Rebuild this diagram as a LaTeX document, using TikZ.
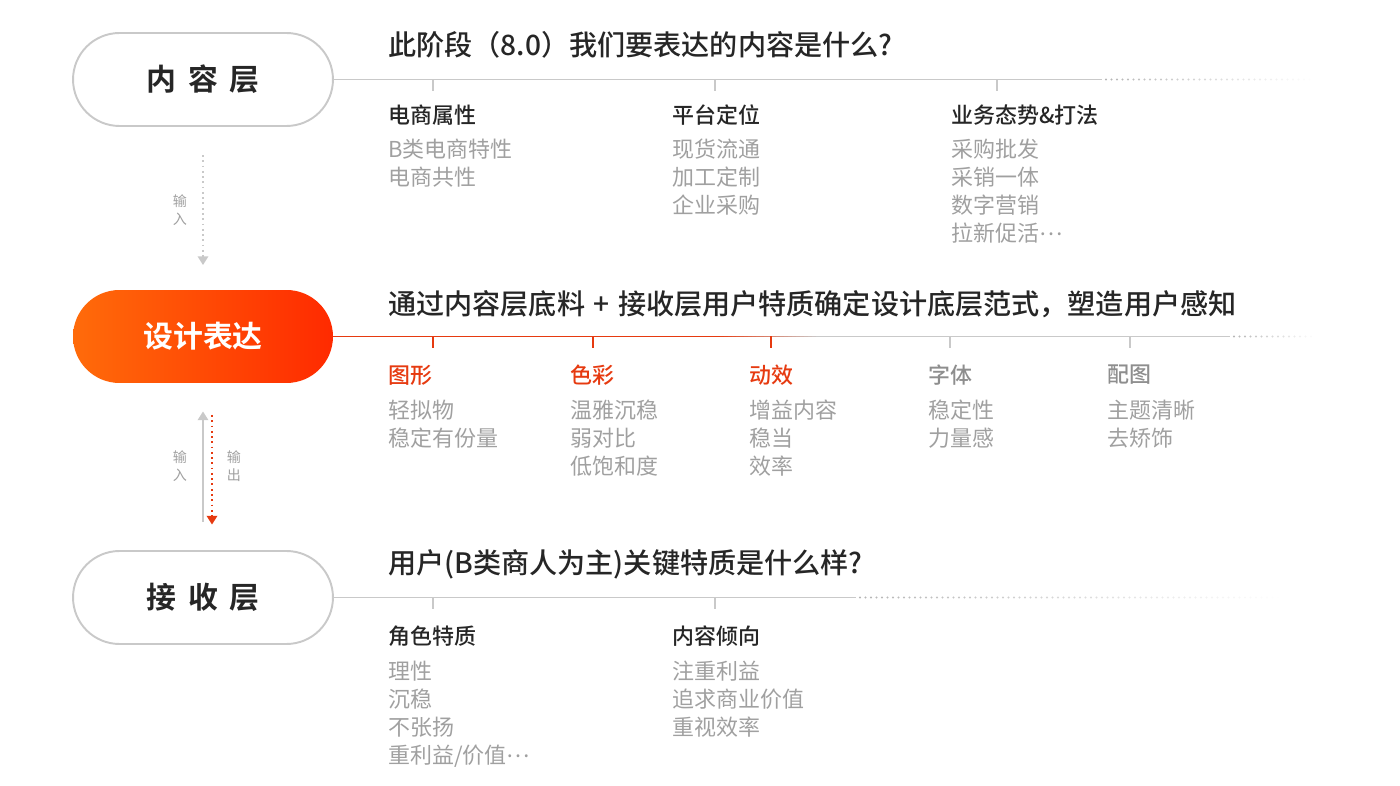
\documentclass[tikz,border=0pt]{standalone}
\usepackage{fontspec}
\setmainfont{Noto Sans CJK SC}[BoldFont={Noto Sans CJK SC Medium}]
\newfontfamily\pillfont{Noto Sans CJK SC Bold}
\usepackage{xcolor}
\usetikzlibrary{arrows.meta}
\definecolor{linegray}{HTML}{C9C9C9}
\definecolor{dotgray}{HTML}{B5B5B5}
\definecolor{txtgray}{HTML}{A0A0A0}
\definecolor{headgray}{HTML}{8E8E8E}
\definecolor{txtdark}{HTML}{262626}
\definecolor{hired}{HTML}{E63A10}
\definecolor{pillL}{HTML}{FF6B0A}
\definecolor{pillR}{HTML}{FF2A00}
\newcommand{\middots}{\raisebox{0.3em}{…}}

\begin{document}
\begin{tikzpicture}[x=0.02cm,y=-0.02cm,
  pill/.style={rounded corners=0.93cm,minimum width=5.2cm,minimum height=1.86cm,inner sep=0pt,text=txtdark,font=\fontsize{17}{20}\selectfont\pillfont},
  title/.style={anchor=west,inner sep=0pt,text=txtdark,font=\fontsize{16}{19}\selectfont\bfseries},
  head/.style={anchor=west,inner sep=0pt,text=txtdark,font=\fontsize{12.5}{15.9}\selectfont\bfseries},
  items/.style={anchor=north west,inner sep=0pt,align=left,text=txtgray,font=\fontsize{12.5}{15.9}\selectfont},
  rail/.style={draw=linegray,line width=1.1pt},
  tick/.style={linegray,line width=0.9pt},
  lab/.style={inner sep=0pt,align=center,text=txtgray,font=\fontsize{8}{10}\selectfont}]
\useasboundingbox (0,0) rectangle (1400,786);

% the three layers
\node[pill,draw=linegray,line width=1.1pt] (content) at (203,79.5) {内\hspace{0.4em}容\hspace{0.4em}层};
\node[pill,left color=pillL,right color=pillR,text=white] (design) at (203,336.5) {设计表达};
\node[pill,draw=linegray,line width=1.1pt] (receive) at (203,597.5) {接\hspace{0.4em}收\hspace{0.4em}层};

% rails
\coordinate (e1) at (1102,79.5);
\coordinate (e2r) at (716,336.5);
\coordinate (e2g) at (820,336.5);
\coordinate (e2) at (1230,336.5);
\coordinate (e3) at (856,597.5);
\draw[rail] (content.east) -- (e1);
\draw[hired,line width=1.1pt] (design.east) -- (e2r);
\foreach \i [evaluate=\i as \p using int(100-4*\i)] in {0,...,25} \draw[line width=1.1pt,color=hired!\p!linegray] (716+4*\i,336.5) -- ++(4.3,0);
\draw[rail] (e2g) -- (e2);
\draw[rail] (receive.east) -- (e3);
\foreach \i in {0,...,37} \fill[dotgray,opacity={1-\i/38}] (1106+5.5*\i,79.5) circle (0.6pt);
\foreach \i in {0,...,14} \fill[dotgray,opacity={1-\i/15}] (1234+5.5*\i,336.5) circle (0.6pt);
\foreach \i in {0,...,76} \fill[dotgray,opacity={1-\i/77}] (860+5.5*\i,597.5) circle (0.6pt);

% ticks
\foreach \x in {433,715,997} \draw[tick] (\x,79.5) -- ++(0,12);
\foreach \x in {433,593,771} \draw[tick,hired] (\x,336.5) -- ++(0,12);
\foreach \x in {950,1130} \draw[tick] (\x,336.5) -- ++(0,12);
\foreach \x in {433,715} \draw[tick] (\x,597.5) -- ++(0,12);

% arrows between layers
\draw[linegray,dotted,line width=1pt,-{Triangle[width=6pt,length=5pt]},shorten <=16pt,shorten >=14pt] (content.south) -- (design.north);
\draw[linegray,line width=1pt,-{Triangle[width=6pt,length=5pt]},shorten <=16pt,shorten >=16pt] (receive.north) -- (design.south);
\draw[hired,dotted,line width=1pt,-{Triangle[width=6pt,length=5pt]},shorten <=18pt,shorten >=14.5pt] ([xshift=0.18cm]design.south) -- ([xshift=0.18cm]receive.north);
\node[lab] (in1) at (180,210) {输\\入};
\node[lab] (in2) at (180,466) {输\\入};
\node[lab] (out2) at (234,466) {输\\出};

% content layer
\node[title] (q1) at (388,45) {此阶段（8.0）我们要表达的内容是什么?};
\node[head] (h11) at (388,115) {电商属性};
\node[head] (h12) at (672,115) {平台定位};
\node[head] (h13) at (951,115) {业务态势\&打法};
\node[items] (i11) at (388,139) {B类电商特性\\电商共性};
\node[items] (i12) at (672,139) {现货流通\\加工定制\\企业采购};
\node[items] (i13) at (951,139) {采购批发\\采销一体\\数字营销\\拉新促活\middots};

% design layer
\node[title] (q2) at (388,304) {通过内容层底料\hspace{0.3em}+\hspace{0.3em}接收层用户特质确定设计底层范式，塑造用户感知};
\node[head,text=hired] (h21) at (388,375) {图形};
\node[head,text=hired] (h22) at (570,375) {色彩};
\node[head,text=hired] (h23) at (749,375) {动效};
\node[head,text=headgray] (h24) at (928,375) {字体};
\node[head,text=headgray] (h25) at (1107,375) {配图};
\node[items] (i21) at (388,400) {轻拟物\\稳定有份量};
\node[items] (i22) at (570,400) {温雅沉稳\\弱对比\\低饱和度};
\node[items] (i23) at (749,400) {增益内容\\稳当\\效率};
\node[items] (i24) at (928,400) {稳定性\\力量感};
\node[items] (i25) at (1107,400) {主题清晰\\去矫饰};

% receiving layer
\node[title] (q3) at (388,564) {用户(B类商人为主)关键特质是什么样?};
\node[head] (h31) at (388,636) {角色特质};
\node[head] (h32) at (672,636) {内容倾向};
\node[items] (i31) at (388,661) {理性\\沉稳\\不张扬\\重利益/价值\middots};
\node[items] (i32) at (672,661) {注重利益\\追求商业价值\\重视效率};
\end{tikzpicture}
\end{document}
